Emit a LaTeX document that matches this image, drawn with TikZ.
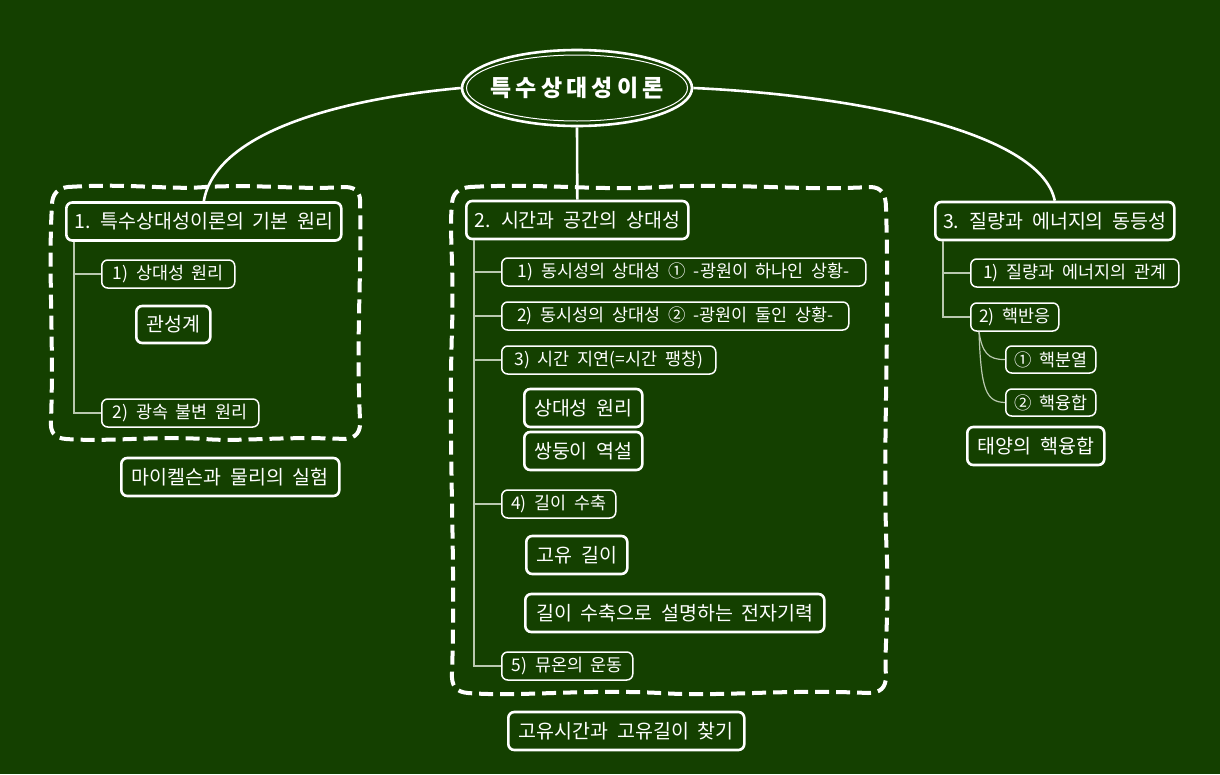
\documentclass[tikz,border=0pt]{standalone}
\usepackage{fontspec}
\setmainfont{Noto Sans CJK KR}[WordSpace=2]
\newfontfamily\titlefont{Noto Sans CJK KR}[LetterSpace=18]
\usetikzlibrary{shapes.geometric}
\definecolor{bg}{RGB}{20,64,0}
\definecolor{treeline}{RGB}{185,200,175}
\tikzset{
 lvone/.style={draw=white, line width=2.6pt, rounded corners=6pt, text=white, font=\fontsize{19.5}{22}\selectfont, minimum height=38pt, inner xsep=4pt, inner ysep=0pt, anchor=west},
 lvtwo/.style={draw=white, line width=1.5pt, rounded corners=6pt, text=white, font=\fontsize{17.4}{20}\selectfont, minimum height=28pt, inner xsep=4pt, inner ysep=0pt, anchor=west},
 floatbox/.style={lvone},
 tree/.style={draw=treeline, line width=1.5pt},
 rootlink/.style={draw=white, line width=2.6pt},
 groupline/.style={draw=white, line width=4pt, dash pattern=on 14pt off 7pt, line join=round},
}
\begin{document}
\begin{tikzpicture}[x=1pt,y=-1pt]
\fill[bg] (0,0) rectangle (1220,774);
\useasboundingbox (0,0) rectangle (1220,774);

% group boundaries (gently wavy, dashed)
\draw[groupline] (68,187) .. controls (130,183) and (170,190) .. (205,187)
  .. controls (260,184) and (300,190) .. (345,187)
  .. controls (358,187) and (361,195) .. (360,205)
  .. controls (362,270) and (356,330) .. (360,420)
  .. controls (361,432) and (356,438) .. (345,439)
  .. controls (280,436) and (240,442) .. (205,439)
  .. controls (150,436) and (110,442) .. (66,439)
  .. controls (54,438) and (50,432) .. (51,420)
  .. controls (54,340) and (48,270) .. (52,205)
  .. controls (52,194) and (58,188) .. cycle;
\draw[groupline] (470,187) .. controls (540,183) and (600,191) .. (660,187)
  .. controls (740,183) and (800,191) .. (870,187)
  .. controls (882,187) and (886,195) .. (886,208)
  .. controls (890,330) and (882,450) .. (887,560)
  .. controls (889,620) and (884,650) .. (886,676)
  .. controls (886,688) and (880,693) .. (868,693)
  .. controls (780,689) and (720,697) .. (660,693)
  .. controls (580,689) and (520,697) .. (468,693)
  .. controls (456,692) and (451,686) .. (452,672)
  .. controls (456,560) and (448,450) .. (452,330)
  .. controls (454,260) and (449,230) .. (452,205)
  .. controls (452,194) and (458,188) .. cycle;

% root
\node[ellipse, draw=white, line width=2.6pt, minimum width=230pt, minimum height=76pt, inner sep=0pt] (root) at (577,88) {};
\draw[white, line width=1pt] (root.center) ellipse (110.5pt and 33pt);
\node[text=white, font=\titlefont\bfseries\fontsize{23}{26}\selectfont, inner sep=0pt] (title) at (root.center) {특수상대성이론};

% level one
\node[lvone, minimum width=275pt] (b1) at (65,221.5) {1. 특수상대성이론의 기본 원리};
\node[lvone, minimum width=222pt] (b2) at (465,220) {2. 시간과 공간의 상대성};
\node[lvone, minimum width=239pt] (b3) at (934,221) {3. 질량과 에너지의 동등성};

\draw[rootlink] (root.west) .. controls (330,100) and (215,135) .. (b1.north);
\draw[rootlink] (root.south) -- (b2.north);
\draw[rootlink] (root.east) .. controls (850,95) and (1040,130) .. (b3.north);

% group 1
\node[lvtwo, minimum width=133pt] (n11) at (101,274) {1) 상대성 원리};
\node[floatbox, minimum width=74pt, minimum height=37pt] (n1a) at (135,324.5) {관성계};
\node[lvtwo, minimum width=157pt] (n12) at (101,413) {2) 광속 불변 원리};
\node[floatbox, minimum width=218pt] (n1b) at (120,477) {마이켈슨과 물리의 실험};
\coordinate (t1) at ([xshift=9pt]b1.south west);
\draw[tree] (t1) |- (n11.west);
\draw[tree] (t1) |- (n12.west);

% group 2
\node[lvtwo, minimum width=364pt] (n21) at (501,272) {1) 동시성의 상대성 ① -광원이 하나인 상황-};
\node[lvtwo, minimum width=347pt] (n22) at (501,316) {2) 동시성의 상대성 ② -광원이 둘인 상황-};
\node[lvtwo, minimum width=214pt] (n23) at (501,360) {3) 시간 지연(=시간 팽창)};
\node[floatbox, minimum width=118pt] (n2a) at (523,408) {상대성 원리};
\node[floatbox, minimum width=118pt] (n2b) at (523,451) {쌍둥이 역설};
\node[lvtwo, minimum width=114pt] (n24) at (501,504) {4) 길이 수축};
\node[floatbox, minimum width=101pt] (n2c) at (525,555) {고유 길이};
\node[floatbox, minimum width=299pt] (n2d) at (524,613) {길이 수축으로 설명하는 전자기력};
\node[lvtwo, minimum width=131pt] (n25) at (501,666) {5) 뮤온의 운동};
\node[floatbox, minimum width=236pt] (n2e) at (507,731) {고유시간과 고유길이 찾기};
\coordinate (t2) at ([xshift=9pt]b2.south west);
\foreach \n in {n21,n22,n23,n24,n25} \draw[tree] (t2) |- (\n.west);

% group 3
\node[lvtwo, minimum width=208pt] (n31) at (970,273) {1) 질량과 에너지의 관계};
\node[lvtwo, minimum width=88pt] (n32) at (970,317) {2) 핵반응};
\node[lvtwo, minimum width=90pt, minimum height=27pt] (n321) at (1005,359.5) {① 핵분열};
\node[lvtwo, minimum width=90pt, minimum height=27pt] (n322) at (1005,402.5) {② 핵융합};
\node[floatbox, minimum width=137pt] (n3a) at (966,446) {태양의 핵융합};
\coordinate (t3) at ([xshift=9pt]b3.south west);
\draw[tree] (t3) |- (n31.west);
\draw[tree] (t3) |- (n32.west);
\coordinate (t32) at ([xshift=9pt]n32.south west);
\draw[tree, line width=1.2pt] (t32) .. controls (982,352) and (988,360) .. (n321.west);
\draw[tree, line width=1.2pt] (t32) .. controls (981,390) and (986,402) .. (n322.west);
\end{tikzpicture}
\end{document}
